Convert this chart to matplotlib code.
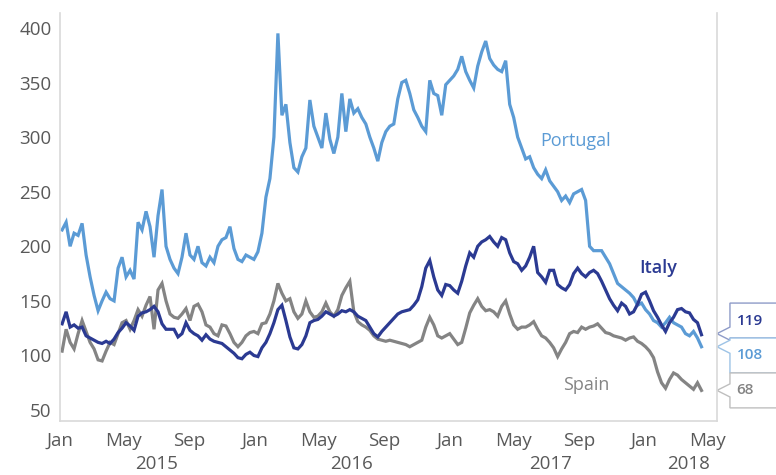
import matplotlib
matplotlib.use('Agg')
import matplotlib.pyplot as plt
from matplotlib.patches import Polygon
from matplotlib.transforms import blended_transform_factory
import pandas as pd

plt.rcParams['font.family'] = ['Open Sans', 'DejaVu Sans']

# spreads, sampled roughly every 7-8 days from Jan 2015 to mid-Apr 2018
portugal = [215, 222, 200, 212, 210, 221, 192, 172, 155, 141,
            150, 158, 152, 150, 180, 190, 172, 178, 170, 222,
            215, 232, 218, 190, 228, 252, 200, 188, 180, 175,
            190, 212, 192, 188, 200, 185, 182, 190, 185, 200,
            206, 208, 218, 198, 188, 186, 192, 190, 188, 195,
            212, 245, 262, 300, 395, 320, 330, 295, 272, 268,
            282, 290, 334, 310, 300, 290, 322, 298, 285, 300,
            340, 305, 335, 322, 326, 318, 312, 300, 290, 278,
            295, 305, 310, 312, 335, 350, 352, 340, 325, 318,
            310, 305, 352, 340, 338, 320, 348, 352, 356, 362,
            374, 360, 352, 345, 365, 378, 388, 372, 366, 362,
            360, 370, 330, 318, 300, 290, 280, 282, 272, 266,
            262, 270, 260, 255, 250, 242, 246, 240, 248, 250,
            252, 242, 200, 196, 196, 196, 190, 184, 175, 166,
            163, 160, 157, 153, 146, 148, 142, 138, 132, 130,
            126, 130, 135, 130, 128, 126, 120, 118, 122, 116, 108]

italy = [129, 140, 126, 128, 125, 126, 118, 116, 114, 112,
         111, 113, 111, 115, 121, 125, 130, 127, 123, 136,
         139, 140, 142, 145, 140, 129, 124, 124, 124, 117,
         120, 130, 123, 120, 118, 114, 119, 115, 113, 112,
         111, 108, 105, 102, 98, 97, 101, 103, 100, 99,
         107, 112, 120, 130, 142, 146, 132, 117, 107, 106,
         110, 118, 130, 132, 133, 136, 140, 138, 136, 138,
         141, 140, 142, 140, 136, 134, 132, 126, 120, 117,
         122, 126, 130, 134, 138, 140, 141, 142, 146, 151,
         163, 180, 187, 172, 160, 155, 165, 164, 160, 157,
         168, 182, 194, 190, 200, 204, 206, 209, 204, 200,
         208, 206, 194, 186, 184, 178, 182, 190, 200, 176,
         172, 167, 178, 178, 165, 162, 160, 165, 175, 180,
         175, 172, 176, 178, 175, 168, 160, 152, 146, 141,
         148, 145, 138, 140, 147, 156, 158, 150, 141, 135,
         128, 122, 130, 135, 142, 143, 140, 139, 133, 130, 119]

spain = [104, 124, 112, 106, 120, 132, 122, 112, 106, 96,
         95, 104, 112, 110, 120, 130, 132, 124, 132, 142,
         136, 146, 154, 124, 160, 166, 150, 138, 135, 134,
         138, 143, 132, 145, 147, 140, 128, 126, 120, 118,
         128, 127, 120, 112, 108, 112, 118, 121, 122, 120,
         129, 130, 138, 150, 166, 157, 150, 152, 140, 134,
         138, 150, 140, 135, 136, 140, 148, 140, 136, 142,
         155, 162, 168, 140, 131, 128, 126, 123, 118, 115,
         114, 113, 114, 113, 112, 111, 110, 108, 110, 112,
         114, 126, 135, 128, 118, 116, 118, 120, 115, 110,
         112, 125, 139, 146, 152, 145, 141, 142, 140, 136,
         145, 150, 138, 128, 124, 126, 126, 128, 131, 124,
         118, 116, 112, 107, 99, 106, 112, 120, 122, 121,
         126, 124, 126, 127, 129, 125, 121, 120, 118, 117,
         116, 114, 116, 117, 113, 111, 108, 104, 98, 85,
         75, 70, 78, 84, 82, 78, 75, 72, 69, 75, 68]

names = ['Portugal', 'Italy', 'Spain']
colors = ['#5B9BD5', '#2B3A92', '#848484']
series = [portugal, italy, spain]

start, end = '2015-01-05', '2018-04-19'

fig = plt.figure(figsize=(7.76, 4.75), dpi=100)
ax = fig.add_axes([0.0773, 0.1137, 0.8466, 0.859])

# spain at the back, italy on top
for idx in [2, 0, 1]:
    vals = series[idx]
    d = pd.date_range(start, end, periods=len(vals))
    ax.plot(d, vals, color=colors[idx], lw=2.3, solid_joinstyle='miter')

ax.set_ylim(40, 413.7)
ax.set_xlim(pd.Timestamp('2015-01-01'), pd.Timestamp('2018-05-18'))
ax.set_yticks(range(50, 401, 50))

ticks = pd.date_range('2015-01-01', '2018-05-01', freq='4MS')
ax.set_xticks(ticks)
ax.set_xticklabels([t.strftime('%b') for t in ticks])
ax.tick_params(axis='both', length=0, labelsize=13.5, colors='#595959', pad=6)
ax.tick_params(axis='x', pad=8)

ax.spines['top'].set_visible(False)
for s in ['left', 'bottom', 'right']:
    ax.spines[s].set_color('#D9D9D9')
    ax.spines[s].set_linewidth(1.2)

# year row under the month labels
bt = blended_transform_factory(ax.transData, ax.transAxes)
years = ['2015', '2016', '2017', '2018']
year_pos = ['2015-07-02', '2016-07-02', '2017-07-09', '2018-03-25']
for y, p in zip(years, year_pos):
    ax.text(pd.Timestamp(p), -0.105, y, transform=bt, ha='center', va='center',
            fontsize=13.5, color='#595959')

# series labels
ax.text(pd.Timestamp('2017-06-21'), 296, 'Portugal', color=colors[0], fontsize=13,
        va='center', ha='left')
ax.text(pd.Timestamp('2017-12-24'), 180, 'Italy', color=colors[1], fontsize=13,
        fontweight='semibold', va='center', ha='left')
ax.text(pd.Timestamp('2017-08-02'), 73, 'Spain', color=colors[2], fontsize=13,
        va='center', ha='left')

# callout boxes with last values
tr = blended_transform_factory(ax.transAxes, ax.transData)
box_rows = [(148, 116), (116, 84), (84, 52)]
last_labels = ['119', '108', '68']
box_cols = ['#2B3A92', '#5B9BD5', '#848484']
edge_cols = ['#8E9BC8', '#9DC3E6', '#BFBFBF']
x0, x1, xt = 1.0198, 1.12, 1.0
for (top, bot), lab, col, ec, vals in zip(box_rows, last_labels, box_cols, edge_cols,
                                          [italy, portugal, spain]):
    tip = min(max(vals[-1], bot + 4), top - 4)
    poly = Polygon([(x0, top), (x1, top), (x1, bot), (x0, bot), (x0, tip - 6),
                    (xt, tip), (x0, tip + 6)], closed=True, transform=tr,
                   facecolor='white', edgecolor=ec, lw=1.0, clip_on=False)
    ax.add_patch(poly)
    ax.text(x0 + 0.01, (top + bot) / 2, lab, transform=tr, color=col, fontsize=11,
            fontweight='semibold', va='center', ha='left', clip_on=False)

fig.savefig('out.png', dpi=100)
